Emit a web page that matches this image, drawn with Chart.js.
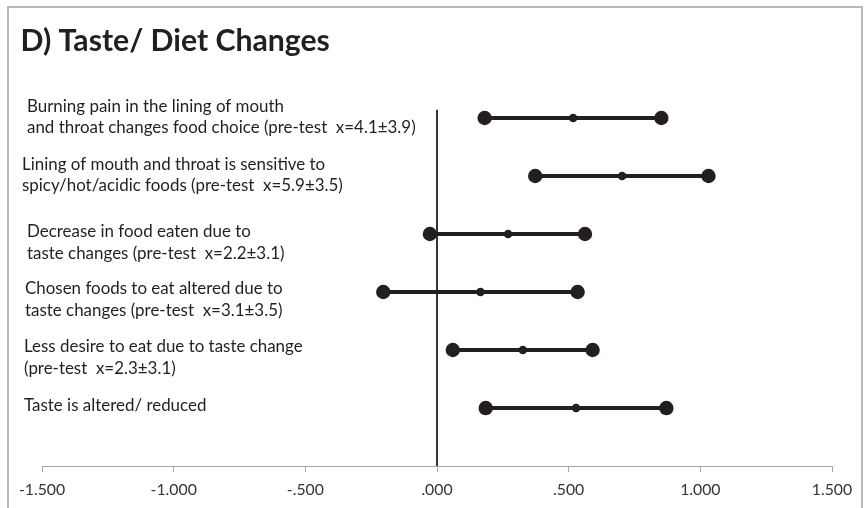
<!DOCTYPE html>
<html>
<head>
<meta charset="utf-8">
<script src="https://cdn.jsdelivr.net/npm/chart.js@4.4.1/dist/chart.umd.min.js"></script>
<style>
  html, body { margin: 0; padding: 0; background: #fff; }
  #wrap { position: relative; width: 864px; height: 508px; overflow: hidden; }
  #frame { position: absolute; left: 7px; top: 6px; width: 856px; height: 560px;
           border: 2px solid #b9b9b9; box-sizing: border-box; }
  #plot { position: absolute; left: 0; top: 0; }
</style>
</head>
<body>
<div id="wrap">
  <div id="frame"></div>
  <canvas id="plot" width="864" height="508"></canvas>
</div>
<script>
// Panel D: effect sizes (with confidence limits) for taste / diet items
const titleText = "D) Taste/ Diet Changes";

const itemLabels = [
  ["Burning pain in the lining of mouth", "and throat changes food choice (pre-test  x=4.1±3.9)"],
  ["Lining of mouth and throat is sensitive to", "spicy/hot/acidic foods (pre-test  x=5.9±3.5)"],
  ["Decrease in food eaten due to", "taste changes (pre-test  x=2.2±3.1)"],
  ["Chosen foods to eat altered due to", "taste changes (pre-test  x=3.1±3.5)"],
  ["Less desire to eat due to taste change", "(pre-test  x=2.3±3.1)"],
  ["Taste is altered/ reduced"]
];

const effectSize = [0.517, 0.703, 0.270, 0.165, 0.326, 0.528];
const ciLower    = [0.181, 0.373, -0.027, -0.204, 0.060, 0.185];
const ciUpper    = [0.852, 1.031, 0.562, 0.534, 0.591, 0.871];

const xTickValues = [-1.5, -1.0, -0.5, 0, 0.5, 1.0, 1.5];

// where each label block sits relative to its row (indent, first baseline offset)
const labelLayout = [
  { x: 27, dy: -6.4 }, { x: 22, dy: -6.5 }, { x: 27, dy: 3.0 },
  { x: 25, dy: 2.0 },  { x: 24, dy: 2.3 },  { x: 24, dy: 3.3 }
];
const LINE_GAP = 21.8;
const LABEL_HSCALE = 0.99;
const TITLE_HSCALE = 0.99;
const INK = '#231f20';

function fmtTick(v) {
  let s = Math.abs(v).toFixed(3);
  if (s.startsWith('0.')) s = s.slice(1);
  return (v < 0 ? '-' : '') + s;
}

function drawSquashed(ctx, text, x, y, sx) {
  ctx.save();
  ctx.translate(x, y);
  ctx.scale(sx, 1);
  ctx.fillText(text, 0, 0);
  ctx.restore();
}

const sideText = {
  id: 'sideText',
  afterDraw(chart) {
    const ctx = chart.ctx;
    const ys = chart.scales.y;
    ctx.save();
    ctx.fillStyle = INK;
    ctx.textBaseline = 'alphabetic';
    ctx.textAlign = 'left';
    ctx.font = 'bold 30.5px Lato';
    drawSquashed(ctx, titleText, 20.5, 50.7, TITLE_HSCALE);
    ctx.font = '17.1px Lato';
    itemLabels.forEach((lines, i) => {
      const py = ys.getPixelForValue(i + 1);
      const lay = labelLayout[i];
      lines.forEach((t, k) => drawSquashed(ctx, t, lay.x, py + lay.dy + k * LINE_GAP, LABEL_HSCALE));
    });
    ctx.restore();
  }
};

const rowSets = itemLabels.map((_, i) => ({
  type: 'line',
  data: [
    { x: ciLower[i], y: i + 1 },
    { x: effectSize[i], y: i + 1 },
    { x: ciUpper[i], y: i + 1 }
  ],
  borderColor: INK,
  backgroundColor: INK,
  borderWidth: 4,
  pointRadius: [7.2, 4.3, 7.2],
  pointBorderWidth: 0,
  pointBackgroundColor: INK,
  order: 1
}));

// vertical reference line at zero
const zeroLine = {
  type: 'line',
  data: [{ x: 0, y: 0.86 }, { x: 0, y: 7 }],
  borderColor: '#1a1a1a',
  borderWidth: 1,
  pointRadius: 0,
  order: 5
};

new Chart(document.getElementById('plot'), {
  type: 'line',
  data: { datasets: [zeroLine, ...rowSets] },
  options: {
    responsive: false,
    animation: false,
    events: [],
    layout: { padding: { left: 42, right: 32, top: 60, bottom: 1 } },
    plugins: { legend: { display: false }, tooltip: { enabled: false }, title: { display: false } },
    scales: {
      x: {
        type: 'linear',
        min: -1.5, max: 1.5,
        afterBuildTicks: (s) => { s.ticks = xTickValues.map(v => ({ value: v })); },
        grid: { drawOnChartArea: false, drawTicks: true, tickLength: 6, color: '#a6a6a6' },
        border: { display: true, color: '#a6a6a6', width: 1 },
        ticks: {
          callback: (v) => fmtTick(v),
          font: { family: 'Lato', size: 15.8 },
          color: '#333333',
          padding: 8,
          maxRotation: 0
        }
      },
      y: { type: 'linear', reverse: true, min: 0, max: 7, display: false }
    }
  },
  plugins: [sideText]
});
</script>
</body>
</html>
